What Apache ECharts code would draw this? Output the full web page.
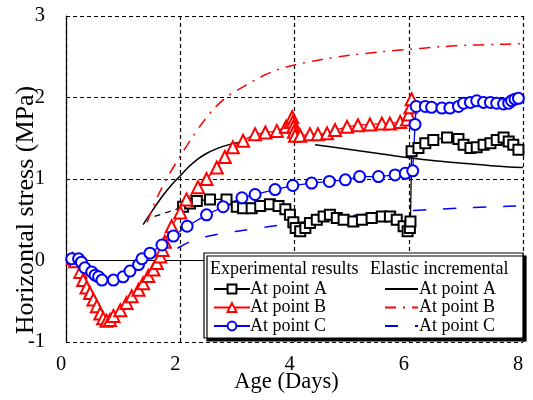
<!DOCTYPE html>
<html>
<head>
<meta charset="utf-8">
<script src="https://cdn.jsdelivr.net/npm/echarts@6/dist/echarts.min.js"></script>
<style>
  html, body { margin: 0; padding: 0; background: #fff; }
  #chart { width: 533px; height: 400px; }
</style>
</head>
<body>
<div id="chart"></div>
<script>
// axis ticks
const xTicks = [0, 2, 4, 6, 8];
const yTicks = [-1, 0, 1, 2, 3];

// experimental results [age, stress]
const expALead = [[1.55, 0.54], [1.72, 0.58], [1.9, 0.62], [2.05, 0.66]];
const expA = [[2.05, 0.66], [2.17, 0.70], [2.29, 0.73], [2.52, 0.75], [2.81, 0.75], [2.99, 0.66], [3.1, 0.64],
  [3.25, 0.64], [3.4, 0.67], [3.57, 0.69], [3.72, 0.67], [3.84, 0.63], [3.92, 0.56], [3.98, 0.47], [4.02, 0.40],
  [4.1, 0.36], [4.19, 0.40], [4.27, 0.46], [4.39, 0.50], [4.51, 0.54], [4.62, 0.56], [4.74, 0.52], [4.86, 0.50],
  [5.03, 0.48], [5.18, 0.50], [5.35, 0.52], [5.53, 0.54], [5.67, 0.54], [5.79, 0.50], [5.91, 0.42], [5.98, 0.36],
  [6.02, 0.40], [6.03, 0.48], [6.05, 1.34], [6.17, 1.38], [6.29, 1.44], [6.43, 1.48], [6.67, 1.51], [6.87, 1.49],
  [6.96, 1.42], [7.08, 1.38], [7.19, 1.39], [7.31, 1.42], [7.43, 1.44], [7.54, 1.48], [7.66, 1.51], [7.75, 1.46],
  [7.83, 1.42], [7.92, 1.36]];
const expB = [[0.12, 0.02], [0.16, -0.01], [0.25, -0.14], [0.30, -0.24], [0.36, -0.33], [0.42, -0.40], [0.48, -0.48],
  [0.54, -0.56], [0.60, -0.65], [0.65, -0.71], [0.71, -0.74], [0.77, -0.73], [0.83, -0.68], [0.95, -0.61],
  [1.06, -0.52], [1.15, -0.44], [1.27, -0.36], [1.35, -0.28], [1.44, -0.19], [1.53, -0.11], [1.59, -0.03],
  [1.65, 0.05], [1.69, 0.13], [1.73, 0.23], [1.85, 0.42], [2.0, 0.59], [2.11, 0.75], [2.31, 0.9], [2.46, 1.0],
  [2.64, 1.14], [2.78, 1.27], [2.92, 1.39], [3.1, 1.47], [3.31, 1.55], [3.49, 1.57], [3.69, 1.59], [3.85, 1.64],
  [3.93, 1.70], [3.96, 1.76], [3.97, 1.70], [3.98, 1.64], [3.99, 1.58], [4.01, 1.53], [4.1, 1.53], [4.27, 1.55],
  [4.41, 1.55], [4.57, 1.56], [4.71, 1.60], [4.92, 1.64], [5.11, 1.66], [5.32, 1.67], [5.53, 1.68], [5.67, 1.68],
  [5.85, 1.70], [5.97, 1.73], [6.0, 1.79], [6.03, 1.88], [6.05, 1.98]];
const expC = [[0.1, 0.02], [0.22, 0.02], [0.27, -0.02], [0.33, -0.09], [0.45, -0.14], [0.51, -0.18], [0.57, -0.2],
  [0.63, -0.24], [0.83, -0.24], [1.0, -0.2], [1.12, -0.13], [1.27, -0.05], [1.33, 0.02], [1.47, 0.09], [1.68, 0.19],
  [1.88, 0.3], [2.12, 0.42], [2.46, 0.56], [2.75, 0.66], [3.08, 0.77], [3.31, 0.81], [3.66, 0.87], [3.97, 0.92],
  [4.30, 0.95], [4.61, 0.97], [4.89, 0.99], [5.14, 1.03], [5.47, 1.03], [5.76, 1.05], [5.94, 1.07], [6.07, 1.10],
  [6.11, 1.67], [6.13, 1.89], [6.29, 1.89], [6.40, 1.88], [6.58, 1.87], [6.72, 1.87], [6.87, 1.89], [6.96, 1.93],
  [7.08, 1.94], [7.19, 1.96], [7.31, 1.94], [7.43, 1.94], [7.54, 1.93], [7.66, 1.92], [7.75, 1.93], [7.8, 1.96],
  [7.86, 1.98], [7.92, 1.99]];

// elastic incremental
const elaA1 = [[1.35, 0.44], [1.5, 0.6], [1.7, 0.8], [1.85, 0.93], [2.0, 1.04], [2.15, 1.15], [2.3, 1.24],
  [2.45, 1.31], [2.6, 1.36], [2.75, 1.40], [2.9, 1.43], [3.05, 1.45]];
const elaA2 = [[4.36, 1.42], [5.0, 1.36], [5.5, 1.31], [6.0, 1.26], [6.5, 1.22], [7.0, 1.19], [7.5, 1.16], [8.0, 1.14]];
const elaB = [[1.42, 0.47], [1.6, 0.78], [1.8, 1.05], [2.0, 1.28], [2.2, 1.5], [2.4, 1.7], [2.6, 1.87], [2.8, 2.0],
  [3.0, 2.09], [3.2, 2.17], [3.4, 2.25], [3.7, 2.34], [4.0, 2.4], [4.5, 2.47], [5.0, 2.52], [5.5, 2.56], [6.0, 2.59],
  [6.5, 2.62], [7.0, 2.64], [7.5, 2.65], [8.0, 2.66]];
const elaC = [[1.95, 0.15], [2.2, 0.24], [2.5, 0.3], [3.0, 0.36], [3.5, 0.41], [4.0, 0.46], [4.5, 0.5], [5.0, 0.55],
  [5.5, 0.58], [6.0, 0.61], [6.5, 0.63], [7.0, 0.645], [7.5, 0.66], [8.0, 0.67]];

const FONT = '"Liberation Serif", "Times New Roman", serif';
const chart = echarts.init(document.getElementById('chart'));

function expSeries(name, data, color, symbol, size) {
  return {
    name: name, type: 'line', data: data, symbol: symbol, symbolSize: size,
    itemStyle: { color: color, borderWidth: 1.5 },
    lineStyle: { color: color, width: 1.3 }, z: 5
  };
}
function elaSeries(name, data, color, dash) {
  return {
    name: name, type: 'line', data: data, showSymbol: false, symbol: 'none', smooth: 0.3,
    itemStyle: { color: color },
    lineStyle: { color: color, width: 1.5, type: dash }, z: 4
  };
}
const legendNames = { 'Exp A': 'At point A', 'Exp B': 'At point B', 'Exp C': 'At point C',
  'Ela A': 'At point A', 'Ela B': 'At point B', 'Ela C': 'At point C' };

const option = {
  animation: false,
  grid: { left: 66, right: 10, top: 16, bottom: 58, outerBoundsMode: 'none', containLabel: false },
  xAxis: [{
    type: 'value', min: 0, max: 8, interval: 2,
    name: 'Age (Days)', nameLocation: 'middle', nameGap: 29, nameMoveOverlap: false,
    nameTextStyle: { fontFamily: FONT, fontSize: 22.5, color: '#000', padding: [0, 16, 0, 0] },
    axisLine: { show: false }, axisTick: { show: false },
    axisLabel: { fontFamily: FONT, fontSize: 20.5, color: '#000', margin: 12, padding: [0, 10, 0, 0],
      formatter: v => xTicks.includes(v) ? String(v) : '' },
    splitLine: { show: true, lineStyle: { color: '#000', type: [4, 3], width: 1.2 } }
  }, {
    type: 'value', min: 0, max: 8, position: 'top',
    axisLine: { show: true, lineStyle: { color: '#000', width: 1.2 } },
    axisTick: { show: false }, axisLabel: { show: false }, splitLine: { show: false }
  }],
  yAxis: [{
    type: 'value', min: -1, max: 3, interval: 1,
    name: 'Horizontal stress (MPa)', nameLocation: 'middle', nameGap: 27, nameMoveOverlap: false,
    nameTextStyle: { fontFamily: FONT, fontSize: 26, color: '#000', padding: [0, 62, 0, 0] },
    axisLine: { show: false }, axisTick: { show: false },
    axisLabel: { fontFamily: FONT, fontSize: 20.5, color: '#000', margin: 21,
      formatter: v => yTicks.includes(v) ? String(v) : '' },
    splitLine: { show: true, lineStyle: { color: '#000', type: [4, 3], width: 1.2 } }
  }, {
    type: 'value', min: -1, max: 3, position: 'right',
    axisLine: { show: true, lineStyle: { color: '#000', width: 1.2 } },
    axisTick: { show: false }, axisLabel: { show: false }, splitLine: { show: false }
  }],
  graphic: [
    { type: 'rect', z: 50, shape: { x: 204, y: 253, width: 319, height: 85 },
      style: { fill: '#fff', stroke: '#000', lineWidth: 1.2, shadowColor: '#000', shadowOffsetX: 3, shadowOffsetY: 3, shadowBlur: 0 } },
    { type: 'text', z: 60, left: 210, top: 260,
      style: { text: 'Experimental results', font: '18px ' + FONT, fill: '#000' } },
    { type: 'text', z: 60, left: 370, top: 260,
      style: { text: 'Elastic incremental', font: '18px ' + FONT, fill: '#000' } }
  ],
  legend: [{
    data: ['Exp A', 'Exp B', 'Exp C'], orient: 'vertical', left: 208, top: 275, z: 60,
    itemWidth: 36, itemHeight: 11, itemGap: 0.5,
    formatter: n => legendNames[n],
    textStyle: { fontFamily: FONT, fontSize: 18, lineHeight: 17, color: '#000', padding: [0, 0, 0, -5] }
  }, {
    data: ['Ela A', 'Ela B', 'Ela C'], orient: 'vertical', left: 379, top: 275, z: 60,
    itemWidth: 33, itemHeight: 11, itemGap: 0.5,
    itemStyle: { opacity: 0 },
    formatter: n => legendNames[n],
    textStyle: { fontFamily: FONT, fontSize: 18, lineHeight: 17, color: '#000', padding: [0, 0, 0, -4] }
  }],
  series: [
    elaSeries('Ela A', elaA1, '#000', 'solid'),
    elaSeries('Ela A', elaA2, '#000', 'solid'),
    elaSeries('Ela B', elaB, '#ff0000', [11, 7, 2, 7]),
    elaSeries('Ela C', elaC, '#0000ff', [13, 17]),
    { name: 'Exp A lead', type: 'line', data: expALead, showSymbol: false, symbol: 'none',
      lineStyle: { color: '#000', width: 1.3, type: [6, 5] }, z: 5 },
    expSeries('Exp A', expA, '#000', 'emptyRect', 10),
    expSeries('Exp B', expB, '#ff0000', 'emptyTriangle', 12),
    expSeries('Exp C', expC, '#0000ff', 'emptyCircle', 11)
  ]
};
chart.setOption(option);
</script>
</body>
</html>
